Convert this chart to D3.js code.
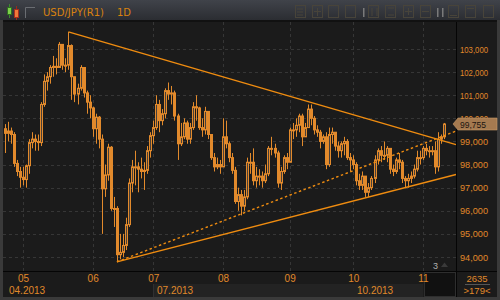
<!DOCTYPE html>
<html>
<head>
<meta charset="utf-8">
<script src="https://cdn.jsdelivr.net/npm/d3@7"></script>
<style>
  body { margin: 0; background: #1a1a1a; }
  svg { display: block; font-family: "Liberation Sans", Arial, sans-serif; }
</style>
</head>
<body>
<div id="chart"></div>
<script>
// USD/JPY daily candles, 23 Apr 2013 .. 12 Nov 2013 (weekdays)
const firstDay = "2013-04-23", lastDay = "2013-11-12";
const firstOpen = 99.55;
const closes = [
  99.35, 99.45, 99.3, 98.05, 97.7, 97.45,
  97.35, 97.95, 98.95, 99.1, 99.0, 98.95, 100.6, 101.6, 101.8, 102.2, 102.25, 102.2, 103.2, 102.3, 102.3, 103.15, 101.8, 101.05, 101.3, 102.2, 101.1, 100.7, 100.45,
  99.55, 100.05, 99.1, 96.95, 97.55, 98.75, 96.1, 96.1, 94.1, 94.2, 94.5, 95.4, 97.2, 97.9, 97.9, 97.8, 97.7, 97.75, 98.6, 99.25,
  99.6, 100.6, 99.9, 100.2, 101.2, 101.05, 101.1, 100.1, 98.9, 99.2, 99.8, 99.1, 99.6, 100.5, 100.45, 99.6, 99.5, 100.3, 99.3, 98.3, 97.9, 98.0, 97.9,
  99.2, 98.9, 98.3, 97.75, 96.4, 96.7, 96.2, 96.6, 98.1, 98.1, 97.3, 97.5, 97.5, 97.3, 97.6, 98.7, 98.7, 98.5, 97.2, 97.7, 98.3, 98.1,
  99.5, 99.5, 99.7, 100.1, 99.2, 99.6, 100.4, 100.0, 99.5, 99.4, 99.0, 99.2, 98.0, 99.3, 99.4, 98.8, 98.6, 98.9, 99.0, 98.3, 98.2,
  98.0, 97.3, 97.1, 97.5, 96.8, 97.0, 97.4, 98.2, 98.6, 98.4, 98.4, 98.7, 97.8, 97.7, 98.2, 98.1, 97.4, 97.3, 97.4, 97.5, 97.8, 98.3, 98.3,
  98.7, 98.6, 98.6, 98.6, 97.9, 99.1, 99.2, 99.755
];
const highs = [
  99.75, 99.85, 99.6, 99.4, 98.2, 97.9,
  97.9, 98.0, 99.1, 99.4, 99.3, 99.3, 100.7, 101.9, 102.0, 102.3, 102.7, 102.6, 103.3, 103.2, 102.6, 103.74, 103.2, 101.6, 101.5, 102.3, 102.2, 101.2, 101.0,
  100.5, 100.2, 100.1, 99.3, 98.0, 98.9, 98.8, 96.6, 96.2, 95.0, 95.0, 95.7, 97.4, 98.2, 98.6, 98.1, 98.3, 98.1, 98.8, 99.4,
  99.9, 101.0, 100.8, 100.4, 101.3, 101.55, 101.4, 101.2, 100.2, 99.8, 100.0, 99.9, 99.8, 100.7, 101.0, 100.5, 100.0, 100.5, 100.3, 99.3, 98.5, 98.3, 98.2,
  100.0, 99.9, 99.0, 98.5, 97.9, 97.0, 96.9, 96.9, 98.3, 98.5, 98.7, 97.9, 97.8, 97.7, 98.0, 98.8, 99.2, 98.9, 98.6, 97.9, 98.4, 98.5,
  99.6, 99.8, 100.0, 100.2, 100.2, 99.8, 100.6, 100.6, 100.1, 99.7, 99.5, 99.3, 99.4, 99.6, 99.6, 99.4, 99.0, 99.0, 99.2, 99.1, 98.5,
  98.4, 98.1, 97.6, 97.7, 97.5, 97.2, 97.5, 98.4, 98.7, 98.8, 99.0, 98.8, 98.7, 98.0, 98.3, 98.5, 98.2, 97.5, 97.6, 97.7, 98.0, 98.6, 98.6,
  98.8, 98.9, 98.8, 98.8, 99.0, 99.4, 99.3, 99.8
];
const lows = [
  98.5, 99.0, 98.9, 97.9, 97.5, 97.0,
  97.1, 97.0, 97.6, 98.7, 98.6, 98.6, 98.8, 100.5, 101.2, 101.5, 101.8, 101.9, 102.2, 102.1, 102.0, 102.1, 100.8, 100.7, 100.6, 101.2, 100.9, 100.2, 100.0,
  99.2, 98.9, 98.7, 95.0, 96.6, 97.3, 96.0, 95.3, 93.79, 93.9, 94.0, 94.3, 95.3, 96.8, 97.1, 96.8, 97.4, 96.9, 97.6, 98.3,
  98.9, 99.5, 99.4, 99.7, 100.0, 100.8, 100.6, 99.9, 98.2, 98.8, 99.1, 98.9, 98.9, 99.5, 99.9, 99.5, 99.2, 99.3, 99.1, 98.2, 97.7, 97.8, 97.6,
  97.9, 98.7, 98.1, 97.6, 96.3, 96.0, 95.8, 96.0, 96.5, 97.6, 97.1, 97.0, 97.1, 97.0, 97.2, 97.5, 98.4, 98.3, 97.0, 96.9, 97.6, 97.8,
  98.2, 99.1, 99.2, 99.4, 98.8, 99.2, 99.6, 99.7, 99.3, 99.2, 98.7, 98.9, 97.8, 97.9, 98.9, 98.6, 98.3, 98.3, 98.4, 98.2, 97.7,
  97.8, 97.1, 96.9, 96.9, 96.6, 96.6, 96.9, 97.2, 98.0, 98.1, 98.2, 98.1, 97.6, 97.5, 97.6, 97.8, 97.2, 97.0, 97.0, 97.2, 97.4, 97.7, 98.0,
  98.2, 98.4, 98.3, 98.4, 97.6, 97.7, 98.9, 99.1
];

const priceTicks = [94, 95, 96, 97, 98, 99, 100, 101, 102, 103];
const monthTickDates = ["2013-05-01", "2013-06-03", "2013-07-01", "2013-08-01", "2013-09-02", "2013-10-01", "2013-11-01"];
const monthLabels = ["05", "06", "07", "08", "09", "10", "11"];
const yearTickDates = ["2013-04-23", "2013-07-01", "2013-10-01"];
const yearLabels = ["04.2013", "07.2013", "10.2013"];

// trend lines: start [date, price] and price at the right edge of the plot
const trendStarts = [["2013-05-22", 103.74], ["2013-06-13", 93.79], ["2013-06-13", 93.79]];
const trendEnds = [98.86, 97.57, 99.45];
const trendDashed = [false, false, true];

const lastPrice = 99.755;
const barsCount = "2635", barsShown = ">179<", pageNo = "3";
const title = "USD/JPY(R1)", period = "1D";

// ---------------------------------------------------------------
const W = 500, H = 300;
const plot = {left: 3, right: 456, top: 22, bottom: 271};
const orange = "#e28a2c", lineOrange = "#ef8c10", textOrange = "#e0892a";
const fmtPrice = d => d3.format(",.3f")(d).replace(".", ",");

const parse = d3.timeParse("%Y-%m-%d");
const fmtKey = d3.timeFormat("%Y-%m-%d");
const days = d3.timeDay.range(parse(firstDay), d3.timeDay.offset(parse(lastDay), 1))
  .filter(d => d.getDay() !== 0 && d.getDay() !== 6);
const dayIndex = new Map(days.map((d, i) => [fmtKey(d), i]));

const candles = days.map((d, i) => ({
  date: d,
  open: i === 0 ? firstOpen : closes[i - 1],
  close: closes[i],
  high: highs[i],
  low: lows[i]
}));

const x = d3.scaleLinear().domain([0, days.length - 1]).range([4.8, 444.2]);
const y = d3.scaleLinear().domain([94, 103]).range([257, 49]);

const svg = d3.select("#chart").append("svg")
  .attr("width", W).attr("height", H);

// frame + background
svg.append("rect").attr("width", W).attr("height", H).attr("fill", "#3a3a3a");
svg.append("rect").attr("x", 3).attr("y", 20).attr("width", 494).attr("height", 277).attr("fill", "#1b1b1b");

// header
const grad = svg.append("defs").append("linearGradient")
  .attr("id", "hdr").attr("x1", 0).attr("x2", 0).attr("y1", 0).attr("y2", 1);
grad.append("stop").attr("offset", 0).attr("stop-color", "#40434a");
grad.append("stop").attr("offset", 1).attr("stop-color", "#2b2d32");
svg.append("rect").attr("width", W).attr("height", 20).attr("fill", "url(#hdr)");
svg.append("rect").attr("x", 3).attr("y", 20).attr("width", 494).attr("height", 2).attr("fill", "#111");

// header icon: two tiny candles
const hdr = svg.append("g");
hdr.append("line").attr("x1", 9.5).attr("x2", 9.5).attr("y1", 4).attr("y2", 18).attr("stroke", "#3c8a2e");
hdr.append("rect").attr("x", 7.5).attr("y", 7.5).attr("width", 4).attr("height", 7).attr("fill", "#7ed04a").attr("stroke", "#2f6e22");
hdr.append("line").attr("x1", 16.5).attr("x2", 16.5).attr("y1", 6).attr("y2", 20).attr("stroke", "#9a2a1c");
hdr.append("rect").attr("x", 14.5).attr("y", 9.5).attr("width", 4).attr("height", 8).attr("fill", "#f07a3a").attr("stroke", "#a82e1e");
hdr.append("path").attr("d", "M25.5,18V7.5H35").attr("fill", "none").attr("stroke", "#6a6d72");
hdr.append("text").attr("x", 43).attr("y", 15.5).attr("fill", "#d9820f")
  .attr("font-family", "DejaVu Sans, sans-serif").attr("font-size", 10)
  .attr("textLength", 61).attr("lengthAdjust", "spacingAndGlyphs").text(title);
hdr.append("text").attr("x", 117).attr("y", 15.5).attr("fill", "#d9820f")
  .attr("font-family", "DejaVu Sans, sans-serif").attr("font-size", 10).text(period);

// toolbar buttons on the right (dim)
const btnX = [295, 312, 328, 345, 368, 385, 403, 420, 448, 465, 483];
const tb = svg.append("g").attr("stroke", "#48443a").attr("fill", "none");
btnX.forEach(bx => {
  tb.append("rect").attr("x", bx + 0.5).attr("y", 5.5).attr("width", 10).attr("height", 12);
});
tb.append("path").attr("d", "M297,9h6M297,12h6M297,15h6M314,11.5h7M317.5,8v8M372,8v8M377,8v8M388,8h6M388,15h6M405,11.5h7M408.5,8v7M422,11.5h7M450,15.5h7M467,8.5h7");
svg.append("g").attr("fill", "#7a7a7a")
  .selectAll("rect").data([363, 437, 442]).join("rect")
  .attr("x", d => d).attr("y", 8).attr("width", 1.5).attr("height", 9);

// grid
const grid = svg.append("g").attr("stroke", "#363636").attr("stroke-dasharray", "3,3");
grid.selectAll("line.h").data(priceTicks).join("line")
  .attr("x1", plot.left).attr("x2", plot.right)
  .attr("y1", d => Math.round(y(d)) + 0.5).attr("y2", d => Math.round(y(d)) + 0.5);
grid.selectAll("line.v").data(monthTickDates).join("line")
  .attr("x1", d => Math.round(x(dayIndex.get(d))) + 0.5)
  .attr("x2", d => Math.round(x(dayIndex.get(d))) + 0.5)
  .attr("y1", plot.top).attr("y2", plot.bottom);

// candles
const cg = svg.append("g");
cg.selectAll("line").data(candles).join("line")
  .attr("x1", (d, i) => Math.round(x(i)) + 0.5)
  .attr("x2", (d, i) => Math.round(x(i)) + 0.5)
  .attr("y1", d => y(Math.max(d.high, d.open, d.close)))
  .attr("y2", d => y(Math.min(d.low, d.open, d.close)))
  .attr("stroke", orange);
cg.selectAll("rect").data(candles).join("rect")
  .attr("x", (d, i) => Math.round(x(i)) - 0.5)
  .attr("width", 2)
  .attr("y", d => y(Math.max(d.open, d.close)))
  .attr("height", d => Math.max(1, Math.abs(y(d.open) - y(d.close))))
  .attr("fill", d => d.close >= d.open ? "#4a4038" : orange)
  .attr("stroke", orange);

// trend lines
const xEdge = x.invert(plot.right);
trendStarts.forEach((s, k) => {
  svg.append("line")
    .attr("x1", x(dayIndex.get(s[0]))).attr("y1", y(s[1]))
    .attr("x2", x(xEdge)).attr("y2", y(trendEnds[k]))
    .attr("stroke", lineOrange).attr("stroke-width", 1.4)
    .attr("stroke-dasharray", trendDashed[k] ? "2.5,2.5" : null);
});

// right price axis
svg.append("rect").attr("x", plot.right).attr("y", plot.top).attr("width", 41).attr("height", 275).attr("fill", "#1b1b1b");
svg.append("line").attr("x1", plot.right + 0.5).attr("x2", plot.right + 0.5)
  .attr("y1", plot.top).attr("y2", 297).attr("stroke", "#050505");
const yAxis = d3.axisRight(y).tickValues(priceTicks).tickSize(0).tickPadding(4)
  .tickFormat(fmtPrice);
const ya = svg.append("g").attr("transform", `translate(${plot.right},0)`).call(yAxis);
ya.select(".domain").remove();
ya.selectAll("text").attr("fill", textOrange).attr("font-size", 9.5)
  .attr("font-family", "Liberation Sans, Arial, sans-serif")
  .attr("textLength", 28).attr("lengthAdjust", "spacingAndGlyphs");

// last price tag (drawn over the 100,000 label, as in the original)
const py = Math.round(y(lastPrice));
svg.append("path")
  .attr("d", `M453,${py}L458,${py - 6}H497V${py + 6}H458Z`)
  .attr("fill", "#a57a50").attr("stroke", "#c89a6a").attr("stroke-width", 0.6);
svg.append("text").attr("x", 460).attr("y", py + 3.5).attr("font-size", 9.5)
  .attr("textLength", 26).attr("lengthAdjust", "spacingAndGlyphs")
  .attr("fill", "#1a1510").text(fmtPrice(lastPrice));

// bottom time axis
svg.append("rect").attr("x", 3).attr("y", plot.bottom).attr("width", 453).attr("height", 26).attr("fill", "#1b1b1b");
svg.append("line").attr("x1", 3).attr("x2", 497).attr("y1", plot.bottom + 0.5).attr("y2", plot.bottom + 0.5)
  .attr("stroke", "#050505");
const jul = Math.round(x(dayIndex.get(yearTickDates[1])));
const nov = Math.round(x(dayIndex.get(monthTickDates[6])));
svg.append("rect").attr("x", jul).attr("y", 284).attr("width", nov - jul).attr("height", 13).attr("fill", "#232323");
svg.append("line").attr("x1", jul + 0.5).attr("x2", jul + 0.5).attr("y1", 284).attr("y2", 297).attr("stroke", "#303030");

// scroll box + page marker (under the month labels)
svg.append("rect").attr("x", 424.5).attr("y", 272.5).attr("width", 31).attr("height", 24)
  .attr("fill", "#111").attr("stroke", "#2e2e2e");
svg.append("text").attr("x", 433).attr("y", 269).attr("font-size", 9).attr("fill", "#b0b0b0").text(pageNo);
svg.append("path").attr("d", "M441,267L444.5,262.5L448,267Z").attr("fill", "#3a3a3a");

const xAxis = d3.axisBottom(x)
  .tickValues(monthTickDates.map(d => dayIndex.get(d)))
  .tickFormat((d, i) => monthLabels[i]).tickSize(0).tickPadding(4);
const xa = svg.append("g").attr("transform", `translate(0,${plot.bottom})`).call(xAxis);
xa.select(".domain").remove();
xa.selectAll("text").attr("fill", textOrange).attr("font-size", 10)
  .attr("font-family", "Liberation Sans, Arial, sans-serif");

svg.append("g").selectAll("text").data(yearLabels).join("text")
  .attr("x", (d, i) => i === 0 ? 9 : Math.round(x(dayIndex.get(yearTickDates[i]))) + 4)
  .attr("y", 293.5).attr("font-size", 10).attr("fill", textOrange).text(d => d);

// bars counter
svg.append("text").attr("x", 477).attr("y", 282).attr("text-anchor", "middle")
  .attr("font-size", 9.5).attr("fill", textOrange).text(barsCount);
svg.append("line").attr("x1", 465).attr("x2", 490).attr("y1", 284.5).attr("y2", 284.5).attr("stroke", "#555");
svg.append("text").attr("x", 477).attr("y", 294).attr("text-anchor", "middle")
  .attr("font-size", 9.5).attr("fill", textOrange).text(barsShown);
</script>
</body>
</html>
